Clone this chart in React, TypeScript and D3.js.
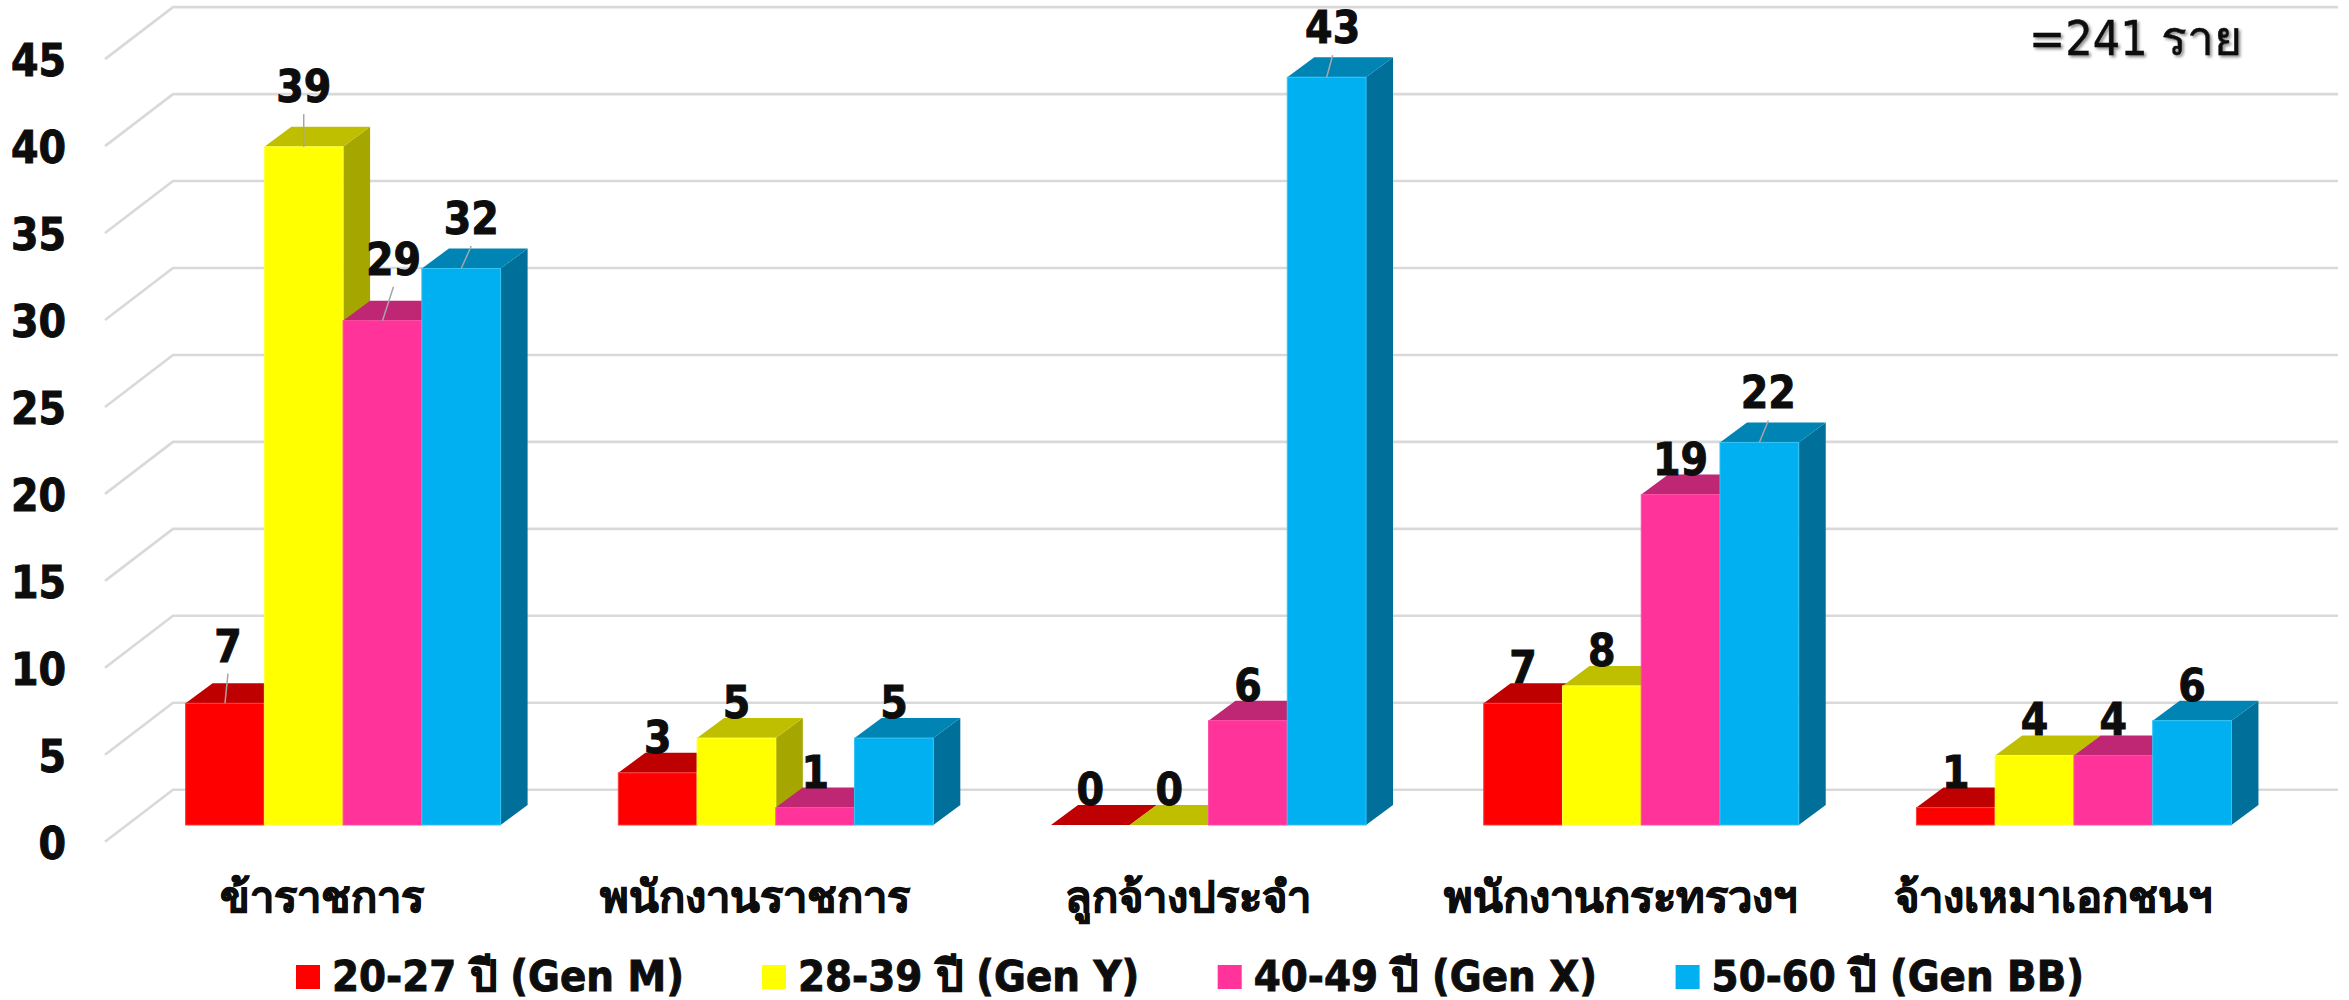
import React from "react";
import * as d3 from "d3";

const categories = ["ข้าราชการ", "พนักงานราชการ", "ลูกจ้างประจำ", "พนักงานกระทรวงฯ", "จ้างเหมาเอกชนฯ"];
const seriesNames = ["20-27 ปี (Gen M)", "28-39 ปี (Gen Y)", "40-49 ปี (Gen X)", "50-60 ปี (Gen BB)"];
const genM = [7, 3, 0, 7, 1];
const genY = [39, 5, 0, 8, 4];
const genX = [29, 1, 6, 19, 4];
const genBB = [32, 5, 43, 22, 6];
const seriesValues = [genM, genY, genX, genBB];
const yTicks = [0, 5, 10, 15, 20, 25, 30, 35, 40, 45];

const frontColors = ["#FF0000", "#FFFF00", "#FF3399", "#00B0F0"];
const topColors = ["#BF0000", "#BFBF00", "#BF2673", "#0084B4"];
const sideColors = ["#A60000", "#A6A600", "#A62163", "#00709A"];
const edgeColors = ["#FF3B3B", "#FFFF40", "#FF4DA6", "#33C4F5"];

// Label nudges (dx, dy) for the labels pulled away from their bars, with leader lines.
const labelNudges: Record<string, [number, number, boolean]> = {
  "0-0": [3, -21.6, true],
  "0-1": [0, -24.7, true],
  "0-2": [11, -26, true],
  "0-3": [10, -14.5, true],
  "2-3": [6, -14, true],
  "3-3": [9, -14, true],
};

const FONT = "'DejaVu Sans Condensed', 'DejaVu Sans', 'Noto Sans', sans-serif";
const INK = "#0D0D0D";
const heavy = { fill: INK, stroke: INK, strokeWidth: 0.9, fontWeight: 700 };
const DX = 27;
const DY = 20;
const GRID_DX = 68;
const GRID_DY = 52;

const baseY = 825;
const unit = 17.39;
const y = d3.scaleLinear().domain([0, 45]).range([baseY, baseY - 45 * unit]);
const gridFrontOffset = 16.7;

const x0 = d3.scaleBand<string>().domain(categories).range([126.75, 2290.3]).paddingInner(0.272).paddingOuter(0.136);
const x1 = d3.scaleBand<number>().domain([0, 1, 2, 3]).range([0, x0.bandwidth()]);

export default function App() {
  const line = d3.line();
  const legendX = [296, 762, 1217.7, 1675.6];
  return (
    <svg width={2349} height={1000} style={{ position: "absolute", left: 0, top: 0, background: "#fff" }} fontFamily={FONT} fontStretch="condensed">
      <defs>
        <filter id="ts" x="-10%" y="-20%" width="120%" height="150%">
          <feDropShadow dx="2" dy="2" stdDeviation="1.5" floodColor="#000" floodOpacity="0.45" />
        </filter>
      </defs>
      {yTicks.map((t) => {
        const fy = y(t) + gridFrontOffset;
        return (
          <g key={t}>
            <path
              d={line([[105, fy], [105 + GRID_DX, fy - GRID_DY], [2338, fy - GRID_DY]])!}
              fill="none"
              stroke="#D9D9D9"
              strokeWidth={2.6}
            />
            <text x={66} y={fy + 17} textAnchor="end" fontSize={44} {...heavy}>
              {t}
            </text>
          </g>
        );
      })}
      {categories.map((c, ci) => (
        <g key={c}>
          {seriesValues.map((vals, si) => {
            const v = vals[ci];
            const bx = x0(c)! + x1(si)!;
            const w = x1.bandwidth();
            const top = y(v);
            return (
              <g key={si}>
                <path
                  d={line([[bx + w, top], [bx + w + DX, top - DY], [bx + w + DX, baseY - DY], [bx + w, baseY]])!}
                  fill={sideColors[si]}
                />
                <path
                  d={line([[bx, top], [bx + DX, top - DY], [bx + w + DX, top - DY], [bx + w, top]])!}
                  fill={topColors[si]}
                />
                {v > 0 && (
                  <rect x={bx} y={top} width={w} height={baseY - top} fill={frontColors[si]} stroke={edgeColors[si]} strokeWidth={1} />
                )}
              </g>
            );
          })}
        </g>
      ))}
      {categories.map((c, ci) =>
        seriesValues.map((vals, si) => {
          const v = vals[ci];
          const cx = x0(c)! + x1(si)! + x1.bandwidth() / 2;
          const top = y(v);
          const [ndx, ndy, leader] = labelNudges[`${ci}-${si}`] ?? [0, 0, false];
          const lx = cx + ndx;
          const ly = top - 20 + ndy;
          return (
            <g key={`${ci}-${si}`}>
              {leader && <line x1={lx} y1={ly + 12} x2={cx} y2={top} stroke="#A6A6A6" strokeWidth={1.5} />}
              <text x={lx} y={ly} textAnchor="middle" fontSize={44} {...heavy}>
                {v}
              </text>
            </g>
          );
        })
      )}
      {categories.map((c) => (
        <text key={c} x={x0(c)! + x0.bandwidth() / 2 - 21} y={912} textAnchor="middle" fontSize={43.5} {...heavy}>
          {c}
        </text>
      ))}
      {seriesNames.map((s, i) => (
        <g key={s}>
          <rect x={legendX[i]} y={965} width={24} height={24} fill={frontColors[i]} />
          <text x={legendX[i] + 36} y={990.5} fontSize={43.2} {...heavy}>
            {s}
          </text>
        </g>
      ))}
      <text x={2029} y={55} fontSize={48} fill={INK} stroke={INK} strokeWidth={0.4} filter="url(#ts)">
        =241 ราย
      </text>
    </svg>
  );
}
